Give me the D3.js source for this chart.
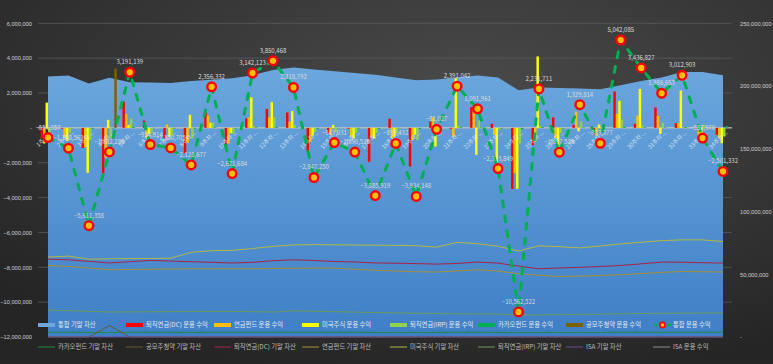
<!DOCTYPE html>
<html>
  <head>
    <meta charset="utf-8">
    <title>통합 운용 수익</title>
    <script src="https://cdn.jsdelivr.net/npm/d3@7"></script>
    <style>
      body { margin: 0; background: #2a2a2a; }
      #chart { display: block; font-family: "Noto Sans CJK KR", "Noto Sans", sans-serif; }
      .axis text { fill: #d0d0d0; font-size: 5.7px; }
      .axis path, .axis line { display: none; }
      .grid line { stroke: #5a5a5a; stroke-width: 0.8; }
      .catLabel { fill: #eef3f8; fill-opacity: 0.8; font-size: 5.8px; }
      .dataLabel { fill: #dcdcdc; font-size: 6px; text-anchor: middle; }
      .legend text { font-size: 6.3px; }
    </style>
  </head>
  <body>
    <svg id="chart" width="773" height="364"></svg>

    <script>
      // categories and ticks
      categories = ["1주차", "2주차", "3주차", "4주차", "5주차", "6주차", "7주차", "8주차", "9주차", "10주차",
        "11주차", "12주차", "13주차", "14주차", "15주차", "16주차", "17주차", "18주차", "19주차", "20주차",
        "21주차", "22주차", "23주차", "24주차", "25주차", "26주차", "27주차", "28주차", "29주차", "30주차",
        "31주차", "32주차", "33주차", "34주차"];
      leftTicks = [-12000000, -10000000, -8000000, -6000000, -4000000, -2000000, 0, 2000000, 4000000, 6000000];
      rightTicks = [0, 50000000, 100000000, 150000000, 200000000, 250000000];

      // 통합 운용 수익 (won)
      totalReturn = [-554057, -1168563, -5611358, -1382286, 3191139, -954914, -1150705, -2128677, 2356332, -2621684,
        3142123, 3850468, 2318792, -2847250, -843031, -1390538, -3885919, -893432, -3934148, -81027,
        2391042, 1091961, -2333849, -10562522, 2231711, -1397586, 1329814, -883377, 5042085, 3436827,
        1986653, 3012903, -583970, -2501332];

      // 운용 수익 bars (million won)
      dcReturn = [-0.6, -0.05, -1.15, -2.6, 1.51, 0.42, -0.6, -1.45, 0.9, -1.07, 0.55, 1.09, 0.88, -1.36, -0.35, -0.05, -1.95,
        0.52, -2.22, 0.36, -0.05, 1.19, 0.23, -3.5, -1.0, 0.6, 0.17, -0.4, 2.09, 0.23, 1.17, 0.27, -0.05, -0.4];
      pensionReturn = [-0.9, -0.55, -1.1, -1.7, 0.8, -0.6, 0.2, -0.86, 0.7, -0.9, 0.6, 0.6, 0.35, -0.8, -0.4, -0.5, -0.5,
        -0.6, -0.69, 0.6, -0.5, 1.07, -0.4, -2.6, -0.8, -0.6, 0.94, -0.45, 0.8, 0.71, 0.69, 0.27, -0.4, -0.6];
      usReturn = [1.45, -0.75, -2.58, 0.46, 0.17, -0.35, -0.5, 0.75, 0.3, -0.3, 1.75, 1.48, 0.97, -0.45, 0.17, -0.6, -0.6,
        -0.5, -0.4, -1.07, 2.85, -1.55, -2.05, -3.5, 4.1, -1.1, -0.2, 0.2, 1.55, 2.24, -0.35, 2.14, -0.4, -0.88];
      irpReturn = [-0.3, -0.3, -0.7, -0.6, 0.55, -0.3, -0.4, -0.6, 0.3, -0.35, 0.1, 0.6, 0.17, -0.25, -0.25, -0.3, -0.3,
        -0.3, -0.7, 0.05, 0.1, 0.42, -0.1, -0.9, 0.1, -0.3, 0.36, -0.25, 0.48, 0.15, 0.3, 0.05, 0.17, -0.5];
      kakaoReturn = [-0.03, -0.02, -0.05, -0.04, 0.05, -0.02, -0.03, -0.04, 0.04, -0.03, 0.04, 0.05, 0.03, -0.05, -0.02, -0.03, -0.05,
        -0.02, -0.06, 0.02, 0.04, 0.03, -0.04, -0.08, 0.05, -0.03, 0.03, -0.02, 0.06, 0.04, 0.03, 0.05, -0.02, 0.1];
      ipoReturn = [0, 0, 0, 3.4, 0, 0, 0, 0, 0, 0, 0, 0, 0, 0, 0, 0, 0,
        0, 0, 0, 0, 0, 0, 0, 0, 0, 0, 0, 0, 0, 0, 0, 0, 0];

      // 기말 자산 (million won)
      totalAsset = [207.6, 208.4, 202.0, 206.6, 203.0, 202.8, 202.5, 204.1, 205.0, 206.2, 208.6, 212.8, 214.7, 213.1, 211.8, 210.4, 209.0,
        206.8, 204.6, 205.2, 206.8, 208.4, 206.8, 196.7, 198.8, 198.5, 198.0, 197.5, 200.6, 204.1, 206.8, 211.2, 211.2, 208.6];
      usAsset = [63.7, 64.5, 62.0, 62.3, 62.5, 62.6, 62.8, 67.5, 68.8, 69.0, 70.5, 72.2, 73.4, 73.6, 73.5, 73.3, 73.2,
        73.0, 72.8, 71.6, 75.4, 74.4, 72.3, 68.5, 72.6, 72.0, 71.0, 72.5, 74.2, 75.5, 76.8, 77.4, 77.4, 76.1];
      dcAsset = [62.0, 61.5, 60.3, 59.0, 60.0, 61.0, 60.5, 60.0, 59.5, 59.0, 59.5, 60.8, 61.5, 61.0, 60.2, 59.8, 59.0,
        58.8, 58.5, 58.1, 58.6, 59.7, 58.9, 56.5, 54.4, 55.0, 55.5, 56.2, 57.0, 58.3, 59.7, 59.6, 59.2, 58.9];
      pensionAsset = [57.0, 56.2, 55.0, 53.6, 53.8, 54.0, 54.2, 54.4, 54.4, 54.4, 54.4, 54.6, 54.8, 54.9, 54.9, 54.0, 53.2,
        52.5, 52.0, 51.8, 52.6, 53.6, 52.5, 50.5, 49.2, 48.2, 48.5, 49.0, 49.6, 50.6, 51.5, 52.2, 52.0, 51.8];
      irpAsset = [21.5, 21.0, 20.5, 19.9, 20.0, 20.1, 20.2, 20.3, 20.4, 20.4, 20.2, 19.9, 20.9, 20.5, 20.2, 19.8, 19.5,
        19.2, 19.0, 18.7, 18.5, 18.4, 18.3, 17.5, 17.6, 17.8, 18.0, 18.2, 18.5, 18.7, 18.9, 19.0, 19.1, 19.1];
      kakaoAsset = [3.7, 3.7, 3.6, 3.6, 3.7, 3.7, 3.7, 3.6, 3.7, 3.7, 3.7, 3.8, 3.8, 3.7, 3.7, 3.7, 3.6,
        3.6, 3.6, 3.6, 3.7, 3.7, 3.6, 3.5, 3.6, 3.6, 3.6, 3.6, 3.7, 3.7, 3.7, 3.8, 3.8, 3.8];
      ipoAsset = [0, 0, 0, 9.2, 0, 0, 0, 0, 0, 0, 0, 0, 0, 0, 0, 0, 0,
        0, 0, 0, 0, 0, 0, 0, 0, 0, 0, 0, 0, 0, 0, 0, 0, 0];
      isaAsset = [0, 0, 0, 0, 0, 0, 0, 0, 0, 0, 0, 0, 0, 0, 0, 0, 0,
        0, 0, 0, 0, 0, 0, 0, 0, 0, 0, 0, 0, 0, 0, 0, 0, 0];
      isaReturn = [0, 0, 0, 0, 0, 0, 0, 0, 0, 0, 0, 0, 0, 0, 0, 0, 0,
        0, 0, 0, 0, 0, 0, 0, 0, 0, 0, 0, 0, 0, 0, 0, 0, 0];

      M = 1000000;

      // series
      barSeries = [
        { name: "퇴직연금(DC) 운용 수익", values: dcReturn, color: "#ff0000" },
        { name: "연금펀드 운용 수익", values: pensionReturn, color: "#ffc000" },
        { name: "미국주식 운용 수익", values: usReturn, color: "#ffff00" },
        { name: "퇴직연금(IRP) 운용 수익", values: irpReturn, color: "#92d050" },
        { name: "카카오펀드 운용 수익", values: kakaoReturn, color: "#00b050" },
        { name: "공모주청약 운용 수익", values: ipoReturn, color: "#7f6000" }
      ];
      assetLines = [
        { name: "카카오펀드 기말 자산", values: kakaoAsset, color: "#1f8a45" },
        { name: "공모주청약 기말 자산", values: ipoAsset, color: "#6b5a2a" },
        { name: "퇴직연금(DC) 기말 자산", values: dcAsset, color: "#a8234a" },
        { name: "연금펀드 기말 자산", values: pensionAsset, color: "#a8913a" },
        { name: "미국주식 기말 자산", values: usAsset, color: "#b3b845" },
        { name: "퇴직연금(IRP) 기말 자산", values: irpAsset, color: "#6f9a5a" },
        { name: "ISA 기말 자산", values: isaAsset, color: "#6a4c93" },
        { name: "ISA 운용 수익", values: isaReturn, color: "#8c8c8c", left: true }
      ];

      // scales
      chart = d3.select("#chart");
      x = d3.scalePoint().domain(categories).range([48, 723]);
      xSub = d3.scaleBand().domain(d3.range(barSeries.length)).range([-7.4, 7.4]);
      yLeft = d3.scaleLinear().domain([-12000000, 6000000]).range([337, 23.3]);
      yRight = d3.scaleLinear().domain([0, 250000000]).range([337, 23.3]);

      // gradients
      defs = chart.append("defs");
      bg = defs.append("radialGradient").attr("id", "bg")
        .attr("cx", 0.6).attr("cy", 0.25).attr("r", 0.8);
      bg.append("stop").attr("offset", 0).attr("stop-color", "#4a4a4a");
      bg.append("stop").attr("offset", 1).attr("stop-color", "#252525");
      areaFill = defs.append("linearGradient").attr("id", "areaFill")
        .attr("x1", 0).attr("y1", 0).attr("x2", 0).attr("y2", 1);
      areaFill.append("stop").attr("offset", 0).attr("stop-color", "#6ba7dd");
      areaFill.append("stop").attr("offset", 1).attr("stop-color", "#3f7fc6");

      chart.append("rect")
        .attr("width", 773).attr("height", 364)
        .attr("fill", "url(#bg)");

      // gridlines
      chart.append("g").classed("grid", true)
        .selectAll("line")
        .data(leftTicks.filter(function(d) { return d !== -12000000; }))
        .enter().append("line")
          .attr("x1", 38).attr("x2", 732)
          .attr("y1", function(d) { return yLeft(d); })
          .attr("y2", function(d) { return yLeft(d); });

      // 통합 기말 자산 area
      area = d3.area()
        .x(function(d, i) { return x(categories[i]); })
        .y0(yRight(0))
        .y1(function(d) { return yRight(d * M); });
      chart.append("path")
        .datum(totalAsset)
        .attr("d", area)
        .attr("fill", "url(#areaFill)");

      // asset lines
      assetLines.forEach(function(s) {
        var scale = s.left ? yLeft : yRight;
        var line = d3.line()
          .x(function(d, i) { return x(categories[i]); })
          .y(function(d) { return scale(d * M); });
        chart.append("path")
          .datum(s.values)
          .attr("d", line)
          .attr("fill", "none")
          .attr("stroke", s.color)
          .attr("stroke-width", 1);
      });

      // zero line
      chart.append("line")
        .attr("x1", 38).attr("x2", 732)
        .attr("y1", yLeft(0)).attr("y2", yLeft(0))
        .attr("stroke", "#c9d3dd").attr("stroke-width", 1);

      // bars
      barGroup = chart.append("g");
      barSeries.forEach(function(s, si) {
        barGroup.selectAll(null)
          .data(s.values)
          .enter().append("rect")
            .attr("x", function(d, i) { return x(categories[i]) + xSub(si); })
            .attr("width", xSub.bandwidth())
            .attr("y", function(d) { return yLeft(Math.max(0, d * M)); })
            .attr("height", function(d) { return Math.abs(yLeft(d * M) - yLeft(0)); })
            .attr("fill", s.color);
      });

      // category labels
      chart.append("g")
        .selectAll("text")
        .data(categories)
        .enter().append("text")
          .classed("catLabel", true)
          .attr("text-anchor", "end")
          .attr("transform", function(d) {
            return "translate(" + (x(d) + 5) + ", 133) rotate(-45)";
          })
          .text(function(d) { return d + " ..."; });

      // axes
      leftAxis = d3.axisLeft(yLeft)
        .tickValues(leftTicks)
        .tickSize(0)
        .tickPadding(0)
        .tickFormat(function(d) { return d === 0 ? "-" : d3.format(",")(d); });
      chart.append("g").classed("axis", true)
        .attr("transform", "translate(32, 0)")
        .call(leftAxis);
      rightAxis = d3.axisRight(yRight)
        .tickValues(rightTicks)
        .tickSize(0)
        .tickPadding(0)
        .tickFormat(function(d) { return d === 0 ? "-" : d3.format(",")(d); });
      chart.append("g").classed("axis", true)
        .attr("transform", "translate(740, 0)")
        .call(rightAxis);
      chart.selectAll(".axis text").attr("font-family", null);

      // 통합 운용 수익 line and markers
      totalLine = d3.line()
        .x(function(d, i) { return x(categories[i]); })
        .y(function(d) { return yLeft(d); });
      chart.append("path")
        .datum(totalReturn)
        .attr("d", totalLine)
        .attr("fill", "none")
        .attr("stroke", "#00b050")
        .attr("stroke-width", 3)
        .attr("stroke-linecap", "round")
        .attr("stroke-dasharray", "6,9");

      markers = chart.append("g");
      markers.selectAll("circle")
        .data(totalReturn)
        .enter().append("circle")
          .attr("cx", function(d, i) { return x(categories[i]); })
          .attr("cy", function(d) { return yLeft(d); })
          .attr("r", 4.3)
          .attr("fill", "#ffc000")
          .attr("stroke", "#ff0000")
          .attr("stroke-width", 2.4);

      chart.append("g")
        .selectAll("text")
        .data(totalReturn)
        .enter().append("text")
          .classed("dataLabel", true)
          .attr("x", function(d, i) { return x(categories[i]); })
          .attr("y", function(d) { return yLeft(d) - 8; })
          .text(function(d) { return d3.format(",")(d); });

      // legend
      legendX = [38, 126, 214, 302, 390, 478, 566, 653];
      legend1 = [{ name: "통합 기말 자산", color: "#6fa8dc", kind: "bar" }]
        .concat(barSeries.map(function(s) { return { name: s.name, color: s.color, kind: "bar" }; }))
        .concat([{ name: "통합 운용 수익", color: "#00b050", kind: "marker" }]);

      legendRow1 = chart.append("g").classed("legend", true)
        .selectAll("g")
        .data(legend1)
        .enter().append("g")
          .attr("transform", function(d, i) { return "translate(" + legendX[i] + ", 325)"; });
      legendRow1.filter(function(d) { return d.kind === "bar"; })
        .append("rect")
          .attr("y", -2).attr("width", 17).attr("height", 4)
          .attr("fill", function(d) { return d.color; });
      markerItem = legendRow1.filter(function(d) { return d.kind === "marker"; });
      markerItem.append("line")
        .attr("x1", 1).attr("x2", 18)
        .attr("stroke", "#00b050").attr("stroke-width", 2.5)
        .attr("stroke-dasharray", "4,2.5");
      markerItem.append("circle")
        .attr("cx", 9.5).attr("r", 2.6)
        .attr("fill", "#ffc000").attr("stroke", "#ff0000").attr("stroke-width", 1.6);
      legendRow1.append("text")
        .attr("x", 20).attr("dy", "0.35em")
        .attr("fill", "#e4e9ee")
        .text(function(d) { return d.name; });

      legendRow2 = chart.append("g").classed("legend", true)
        .selectAll("g")
        .data(assetLines)
        .enter().append("g")
          .attr("transform", function(d, i) { return "translate(" + legendX[i] + ", 347)"; });
      legendRow2.append("line")
        .attr("x1", 0).attr("x2", 17)
        .attr("stroke", function(d) { return d.color; })
        .attr("stroke-width", 1);
      legendRow2.append("text")
        .attr("x", 20).attr("dy", "0.35em")
        .attr("fill", "#bdbdbd")
        .text(function(d) { return d.name; });
    </script>
  </body>
</html>
